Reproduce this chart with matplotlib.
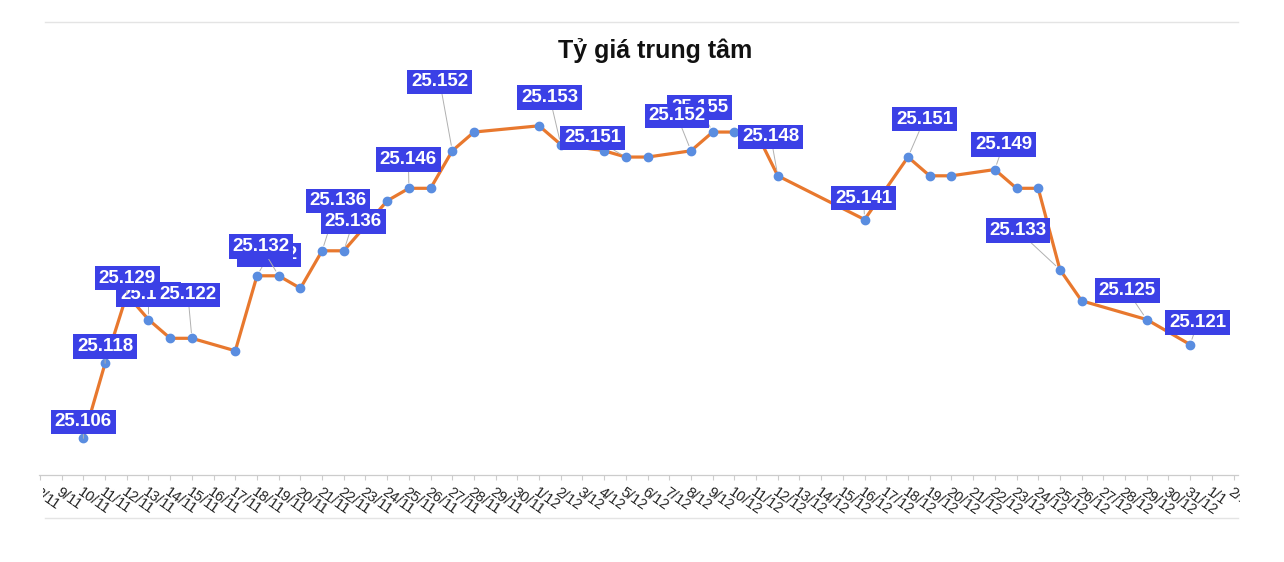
import numpy as np
import pandas as pd
import matplotlib
matplotlib.use("Agg")
import matplotlib.pyplot as plt
import matplotlib.dates as mdates
from matplotlib.lines import Line2D
from matplotlib.transforms import Bbox

plt.rcParams['font.family'] = ['Liberation Sans', 'DejaVu Sans']

# du lieu ty gia trung tam (nghin dong)
dates = ["2025-11-10", "2025-11-11", "2025-11-12", "2025-11-13", "2025-11-14", "2025-11-15",
         "2025-11-17", "2025-11-18", "2025-11-19", "2025-11-20", "2025-11-21", "2025-11-22",
         "2025-11-24", "2025-11-25", "2025-11-26", "2025-11-27", "2025-11-28",
         "2025-12-01", "2025-12-02", "2025-12-04", "2025-12-05", "2025-12-06",
         "2025-12-08", "2025-12-09", "2025-12-10", "2025-12-11", "2025-12-12",
         "2025-12-16", "2025-12-18", "2025-12-19", "2025-12-20",
         "2025-12-22", "2025-12-23", "2025-12-24", "2025-12-25", "2025-12-26",
         "2025-12-29", "2025-12-31"]
rates = [25.106, 25.118, 25.129, 25.125, 25.122, 25.122,
         25.120, 25.132, 25.132, 25.130, 25.136, 25.136,
         25.144, 25.146, 25.146, 25.152, 25.155,
         25.156, 25.153, 25.152, 25.151, 25.151,
         25.152, 25.155, 25.155, 25.155, 25.148,
         25.141, 25.151, 25.148, 25.148,
         25.149, 25.146, 25.146, 25.133, 25.128,
         25.125, 25.121]

# nhan hien thi (theo thu tu ve) va do lech hop nhan, pixel
label_dates = ["2025-11-18", "2025-12-09", "2025-11-13", "2025-11-10", "2025-11-11",
               "2025-11-12", "2025-11-15", "2025-11-19", "2025-11-21", "2025-11-22",
               "2025-11-25", "2025-11-27", "2025-12-02", "2025-12-05", "2025-12-08",
               "2025-12-12", "2025-12-16", "2025-12-18", "2025-12-22", "2025-12-25",
               "2025-12-29", "2025-12-31"]
label_dx = [12, -13, 0, 0, 0, 0.5, -4, -17.7, 16, 9.5, -0.5, -12.5, -11, -33.3, -14,
            -7, -1, 16.5, 8.7, -42, -19.5, 7.7]
label_dy = [21, 24.5, 25, 16.5, 17, 16.5, 43.5, 29.5, 50, 29.5, 28.7, 69, 47, 19.2, 35,
            39, 21.5, 38, 25, 39, 29, 22]

first_tick = pd.Timestamp("2025-11-08")
last_tick = pd.Timestamp("2026-01-02")

x = pd.to_datetime(dates)
W, H = 1284, 562
fig = plt.figure(figsize=(W / 100, H / 100), dpi=100)

px_day = 21.7
d0 = mdates.date2num(first_tick)
left_px = 40 - 0.05 * px_day
right_px = 1238
ax = fig.add_axes([left_px / W, (H - 475) / H, (right_px - left_px) / W, (475 - 60) / H])

ax.plot(x, rates, color='#e8782e', lw=2.3, zorder=2, solid_joinstyle='round')
ax.plot(x, rates, 'o', color='#5a8de0', ms=6, zorder=3)

val = dict(zip(dates, rates))
for i, d in enumerate(label_dates):
    v = val[d]
    ax.annotate(f"{v:.3f}", xy=(pd.Timestamp(d), v), xytext=(label_dx[i], label_dy[i]),
                textcoords='offset pixels', ha='center', va='center', fontsize=13.5,
                fontweight='bold', color='white', zorder=10 + i,
                bbox=dict(boxstyle='square,pad=0.2', fc='#3b40e6', ec='none'),
                arrowprops=dict(arrowstyle='-', color='#b0b0b0', lw=0.7,
                                shrinkA=0, shrinkB=4))

ax.set_xlim(d0 - 0.05, d0 + (right_px - 40) / px_day)
ax.set_ylim(25.106 - (475 - 438.3) / 6250, 25.106 + (438.3 - 60) / 6250)

ticks = pd.date_range(first_tick, last_tick, freq='D')
ax.set_xticks(ticks)
ax.set_xticklabels([f"{t.day}/{t.month}" for t in ticks])
ax.tick_params(axis='x', length=3.5, width=0.8, color='#cccccc', pad=4,
               labelsize=10.5, labelcolor='#222222')
for lab in ax.get_xticklabels():
    lab.set_rotation(-35)
    lab.set_ha('left')
    lab.set_va('top')
    lab.set_rotation_mode('anchor')
    lab.set_clip_on(True)
    lab.set_clip_box(Bbox([[43, 0], [1240, H - 476]]))
ax.set_yticks([])
for s in ['left', 'right', 'top']:
    ax.spines[s].set_visible(False)
ax.spines['bottom'].set_color('#cccccc')
ax.spines['bottom'].set_linewidth(0.9)

for yy in [22, 518]:
    fig.add_artist(Line2D([45 / W, 1238 / W], [1 - yy / H, 1 - yy / H],
                          color='#e4e4e4', lw=1))

fig.text(655 / W, 1 - 57.7 / H, 'Tỷ giá trung tâm', ha='center', va='baseline',
         fontsize=18, fontweight='bold', color='#111111')

fig.savefig('out.png', dpi=100)
